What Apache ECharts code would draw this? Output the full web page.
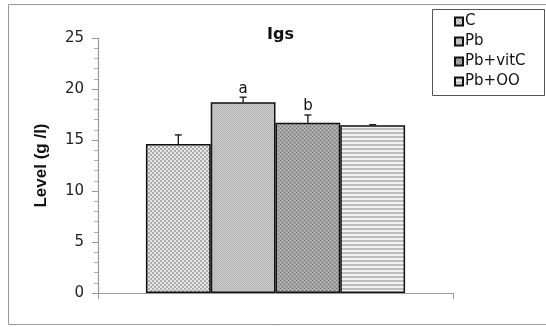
<!DOCTYPE html>
<html>
<head>
<meta charset="utf-8">
<script src="https://cdn.jsdelivr.net/npm/echarts@6/dist/echarts.min.js"></script>
<style>
  html, body { margin: 0; padding: 0; background: #fff; }
  #chart { width: 546px; height: 327px; }
</style>
</head>
<body>
<div id="chart"></div>
<script>
// Groups, means, upper error limits and significance letters
const groups = ['C', 'Pb', 'Pb+vitC', 'Pb+OO'];
const means = [14.6, 18.7, 16.7, 16.45];
const upperErr = [15.5, 19.2, 17.45, 16.5];
const letters = ['', 'a', 'b', ''];
const yTicks = [0, 5, 10, 15, 20, 25];

const GAP = 0.27; // fraction of the category band left empty
const FONT = '"DejaVu Sans", "Liberation Sans", Arial, sans-serif';

// Small tiles used as fill patterns for the four bars
function tile(w, h, draw) {
  const c = document.createElement('canvas');
  c.width = w; c.height = h;
  const ctx = c.getContext('2d');
  draw(ctx);
  return { image: c, repeat: 'repeat' };
}
const patterns = [
  tile(4, 4, ctx => {           // coarse checker
    ctx.fillStyle = '#e6e6e6'; ctx.fillRect(0, 0, 4, 4);
    ctx.fillStyle = '#acacac'; ctx.fillRect(0, 0, 2, 2); ctx.fillRect(2, 2, 2, 2);
  }),
  tile(2, 2, ctx => {           // fine stipple
    ctx.fillStyle = '#cdcdcd'; ctx.fillRect(0, 0, 2, 2);
    ctx.fillStyle = '#b2b2b2'; ctx.fillRect(0, 0, 1, 1); ctx.fillRect(1, 1, 1, 1);
  }),
  tile(4, 4, ctx => {           // dark dotted
    ctx.fillStyle = '#a2a2a2'; ctx.fillRect(0, 0, 4, 4);
    ctx.fillStyle = '#6e6e6e'; ctx.fillRect(0, 0, 1, 1); ctx.fillRect(2, 2, 1, 1);
    ctx.fillStyle = '#c4c4c4'; ctx.fillRect(2, 0, 1, 1); ctx.fillRect(0, 2, 1, 1);
  }),
  tile(4, 4, ctx => {           // horizontal stripes
    ctx.fillStyle = '#f2f2f2'; ctx.fillRect(0, 0, 4, 4);
    ctx.fillStyle = '#bdbdbd'; ctx.fillRect(0, 0, 4, 2);
  })
];

const barSeries = groups.map((g, i) => ({
  name: g,
  type: 'bar',
  data: [means[i]],
  barGap: '0%',
  barCategoryGap: (GAP * 100) + '%',
  itemStyle: { color: patterns[i], borderColor: '#111', borderWidth: 1.5 },
  z: 2
}));

const errData = groups.map((g, i) => [0, means[i], upperErr[i], i]);

const errSeries = {
  type: 'custom',
  name: 'err',
  z: 5,
  data: errData,
  encode: { x: 0, y: 1 },
  renderItem: function (params, api) {
    const idx = api.value(3);
    const base = api.coord([0, api.value(1)]);
    const top = api.coord([0, api.value(2)]);
    const band = api.size([1, 0])[0];
    const bw = band * (1 - GAP) / groups.length;
    const cx = base[0] + (idx - (groups.length - 1) / 2) * bw;
    const ls = { stroke: '#111', lineWidth: 1.3 };
    const children = [
      { type: 'line', shape: { x1: cx, y1: base[1], x2: cx, y2: top[1] }, style: ls },
      { type: 'line', shape: { x1: cx - 3.5, y1: top[1], x2: cx + 3.5, y2: top[1] }, style: ls }
    ];
    const lab = letters[idx];
    if (lab) {
      children.push({
        type: 'text',
        style: {
          text: lab, x: cx, y: top[1] - 1,
          align: 'center', verticalAlign: 'bottom',
          font: '15px ' + FONT, fill: '#111'
        }
      });
    }
    return { type: 'group', children: children };
  }
};

const chart = echarts.init(document.getElementById('chart'), null, { renderer: 'canvas' });
chart.setOption({
  animation: false,
  backgroundColor: '#fff',
  textStyle: { fontFamily: FONT },
  title: {
    text: 'Igs',
    left: 262, top: 22,
    textStyle: { fontSize: 16, fontWeight: 'bold', color: '#111', fontFamily: FONT }
  },
  graphic: [
    { type: 'rect', shape: { x: 8.5, y: 4.5, width: 560, height: 320 },
      style: { fill: 'none', stroke: '#9a9a9a', lineWidth: 1 }, z: -1 },
    { type: 'rect', shape: { x: 432.5, y: 9.5, width: 112, height: 86 },
      style: { fill: '#fff', stroke: '#555', lineWidth: 1 }, z: 0 }
  ],
  legend: {
    data: groups,
    orient: 'vertical',
    left: 454, top: 14,
    padding: 0,
    itemWidth: 8, itemHeight: 8, itemGap: 5,
    icon: 'rect',
    textStyle: { fontSize: 15, color: '#111', fontFamily: FONT, padding: [0, 0, 0, -3] },
    z: 10
  },
  grid: { left: 98, right: 93, top: 38, bottom: 34 },
  xAxis: {
    type: 'category',
    data: [''],
    axisLine: { lineStyle: { color: '#999', width: 1.2 } },
    axisTick: { show: true, length: 6, inside: false, lineStyle: { color: '#999' } },
    axisLabel: { show: false }
  },
  yAxis: {
    type: 'value',
    min: yTicks[0], max: yTicks[yTicks.length - 1], interval: 5,
    name: 'Level (g /l)',
    nameLocation: 'middle',
    nameGap: 48,
    nameTextStyle: { fontSize: 17, fontWeight: 'bold', color: '#111', fontFamily: '"Liberation Sans", Arial, sans-serif' },
    axisLine: { show: true, lineStyle: { color: '#999', width: 1.2 } },
    axisTick: { show: true, length: 6, lineStyle: { color: '#999' } },
    minorTick: { show: true, splitNumber: 5, length: 4, lineStyle: { color: '#aaa' } },
    axisLabel: { fontSize: 15, color: '#222', margin: 14, fontFamily: FONT },
    splitLine: { show: false }
  },
  series: barSeries.concat([errSeries])
});
</script>
</body>
</html>
